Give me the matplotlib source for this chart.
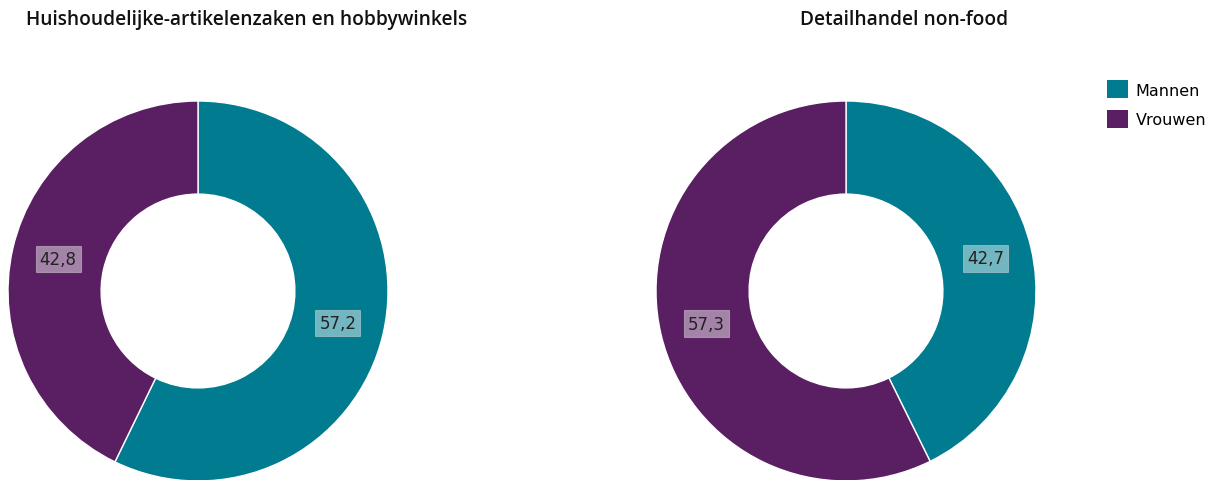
import numpy as np
import matplotlib.pyplot as plt
from matplotlib.patches import Patch

# data
titles = ['Huishoudelijke-artikelenzaken en hobbywinkels', 'Detailhandel non-food']
series = ['Mannen', 'Vrouwen']
mannen = [57.2, 42.7]
vrouwen = [42.8, 57.3]
colors = ['#007b8f', '#5a1f63']

W, H = 1223, 481
fig = plt.figure(figsize=(W / 100, H / 100), dpi=100)

# pie centres and title centres in pixels
centres = [(198, 292), (846, 292)]
title_x = [247, 904]
R = 190
hole = 0.51

for i in range(2):
    cx, cy = centres[i]
    ax = fig.add_axes([(cx - R) / W, (H - cy - R) / H, 2 * R / W, 2 * R / H])
    vals = [mannen[i], vrouwen[i]]
    ax.pie(vals, colors=colors, startangle=90, counterclock=False, radius=1,
           wedgeprops=dict(width=1 - hole, edgecolor='white', linewidth=1))
    ax.set_xlim(-1, 1)
    ax.set_ylim(-1, 1)
    ax.set_aspect('equal')
    ax.axis('off')

    # labels in the middle of the ring
    start = 90
    r_lab = (1 + hole) / 2
    for v in vals:
        mid = start - v / 100 * 360 / 2
        x = r_lab * np.cos(np.radians(mid))
        y = r_lab * np.sin(np.radians(mid))
        ax.text(x, y, f'{v:.1f}'.replace('.', ','), ha='center', va='center', fontsize=12,
                color='#222222',
                bbox=dict(boxstyle='square,pad=0.25', facecolor='white', alpha=0.45,
                          edgecolor='#dddddd', linewidth=0.8))
        start -= v / 100 * 360

    fig.text(title_x[i] / W, 1 - 20 / H, titles[i], ha='center', va='center',
             fontsize=13.8, fontweight='semibold', family='Open Sans', color='#111111')

handles = [Patch(facecolor=c, edgecolor='none') for c in colors]
fig.legend(handles, series, loc='upper left', bbox_to_anchor=(1093 / W, 1 - 67 / H),
           frameon=False, fontsize=11.5, handlelength=1.32, handleheight=1.32,
           handletextpad=0.45, labelspacing=0.75)

fig.savefig('out.png', dpi=100)
